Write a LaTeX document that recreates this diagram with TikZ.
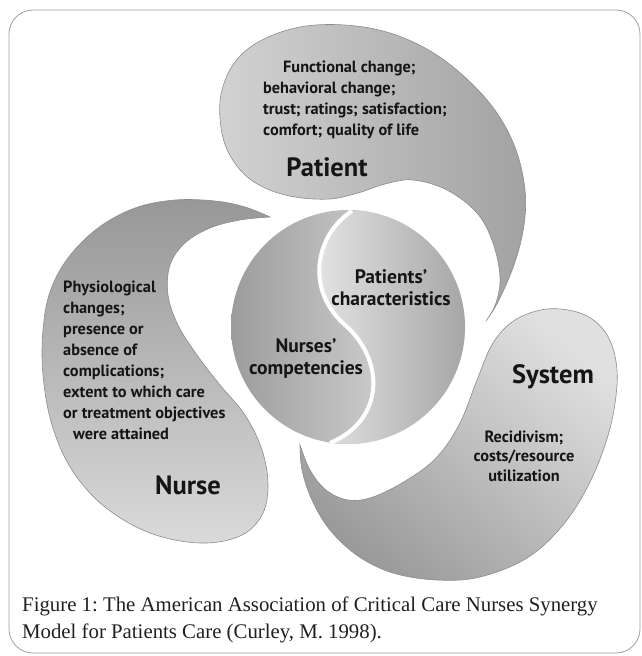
\documentclass[tikz,border=0pt]{standalone}
\usepackage{fontspec}
\setmainfont{Liberation Serif}
\newfontfamily\labfont{PT Sans}
\definecolor{frameline}{HTML}{A0A0A0}
\definecolor{blobline}{HTML}{8C8C8C}
\definecolor{txt}{HTML}{151515}
\definecolor{captxt}{HTML}{202020}
\definecolor{pL}{HTML}{D2D2D2}
\definecolor{pR}{HTML}{A2A2A2}
\definecolor{nT}{HTML}{979797}
\definecolor{nB}{HTML}{DADADA}
\definecolor{sT}{HTML}{E0E0E0}
\definecolor{sB}{HTML}{9A9A9A}
\definecolor{cL}{HTML}{9C9C9C}
\definecolor{cR}{HTML}{E6E6E6}
\definecolor{rL}{HTML}{E8E8E8}
\definecolor{rR}{HTML}{A4A4A4}
\tikzset{
  frame/.style={draw=frameline, line width=0.8pt, rounded corners=24pt},
  blob/.style={draw=blobline, line width=0.6pt},
  small/.style={font=\labfont\bfseries\fontsize{16.3}{21}\selectfont, text=txt, inner sep=0pt},
  mid/.style={font=\labfont\bfseries\fontsize{19.5}{22}\selectfont, text=txt, inner sep=0pt},
  big/.style={font=\labfont\bfseries\fontsize{26.5}{30}\selectfont, text=txt, inner sep=0pt},
  captext/.style={font=\fontsize{20.8}{27}\selectfont, text=captxt, inner sep=0pt}
}
\begin{document}
\frenchspacing
\begin{tikzpicture}[x=1pt, y=-1pt]
\useasboundingbox (0,0) rectangle (641,656);
\draw[frame] (9,10) rectangle (640,653);

% Patient blob
\path[blob, left color=pL, right color=pR] plot[smooth, tension=0.6] coordinates {
 (486,321) (499,300) (515,262) (524,225) (525,190) (516,150) (497,113) (468,80)
 (432,52) (390,33) (345,25) (300,27) (260,41) (235,62) (222,90) (220,118)
 (226,147) (242,172) (265,188) (295,197) (330,199) (358,193) (385,184) (413,180)
 (447,190) (477,213) (493,243) (500,277) (496,303) (486,321)} -- cycle;

% Nurse blob
\path[blob, top color=nT, bottom color=nB] plot[smooth, tension=0.6] coordinates {
 (270,217) (245,207) (215,201) (175,200) (135,208) (98,228) (68,258) (50,292)
 (43,330) (43,375) (52,425) (72,470) (105,507) (150,533) (200,543) (240,536)
 (262,515) (268,485) (262,450) (245,415) (220,385) (197,355) (178,325) (168,295)
 (170,265) (185,243) (210,228) (240,220) (270,217)} -- cycle;

% System blob
\path[blob, top color=sT, bottom color=sB, shading angle=-40] plot[smooth, tension=0.6] coordinates {
 (300,445) (302,470) (312,500) (330,530) (358,556) (393,573) (437,580) (480,577)
 (527,558) (563,525) (590,482) (609,432) (617,385) (614,352) (602,328) (580,313)
 (547,309) (515,320) (493,343) (477,380) (460,423) (437,457) (407,480) (373,497)
 (348,500) (326,490) (310,470) (300,445)} -- cycle;

% Central circle
\coordinate (c) at (348,327);
\path[left color=cL, right color=cR] (c) circle[radius=117pt];
\begin{scope}
\clip (c) circle[radius=117pt];
\path[left color=rL, right color=rR] (352,211) .. controls (315,235) and (305,290) .. (345,325)
  .. controls (385,360) and (385,420) .. (330,443) -- (470,450) -- (470,205) -- cycle;
\draw[white, line width=4pt] (352,211) .. controls (315,235) and (305,290) .. (345,325)
  .. controls (385,360) and (385,420) .. (330,443);
\end{scope}

% Texts
\node[small, anchor=north west, align=left] (ptxt) at (263,61)
 {\hspace*{20pt}Functional change;\\behavioral change;\\trust; ratings; satisfaction;\\comfort; quality of life};
\node[big] (plab) at (327,167) {Patient};
\node[small, anchor=north west, align=left] (ntxt) at (63,281)
 {Physiological\\changes;\\presence or\\absence of\\complications;\\extent to which care\\or treatment objectives\\\hspace*{10pt}were attained};
\node[big] (nlab) at (188,485) {Nurse};
\node[mid, align=center] (pc) at (391,288) {Patients’\\characteristics};
\node[mid, align=center] (nc) at (306,359) {Nurses’\\competencies};
\node[big] (slab) at (553,377) {System};
\node[small, align=center, font=\labfont\bfseries\fontsize{16.3}{19.5}\selectfont] (stxt) at (524,456) {Recidivism;\\costs/resource\\utilization};

% Caption
\node[captext, anchor=base west] (cap1) at (22,611) {Figure 1: The American Association of Critical Care Nurses Synergy};
\node[captext, anchor=base west] (cap2) at (22,638) {Model for Patients Care (Curley, M. 1998).};
\end{tikzpicture}
\end{document}
